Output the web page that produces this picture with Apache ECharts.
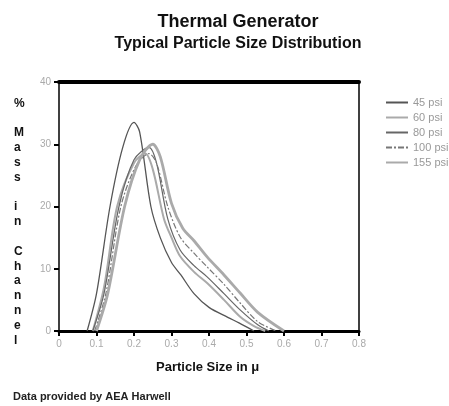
<!DOCTYPE html>
<html>
<head>
    <meta charset="utf-8">
    <title>Thermal Generator</title>
    <script src="https://cdn.jsdelivr.net/npm/echarts@6/dist/echarts.min.js"></script>
    <style>
        html, body { margin: 0; padding: 0; background: #fff; }
        #main { width: 449px; height: 406px; }
    </style>
</head>
<body>
    <div id="main"></div>
    <script type="text/javascript">
        // data: [particle size (micron), % mass in channel]
        var seriesNames = ['45 psi', '60 psi', '80 psi', '100 psi', '155 psi'];
        var xTicks = ['0', '0.1', '0.2', '0.3', '0.4', '0.5', '0.6', '0.7', '0.8'];
        var yTicks = ['0', '10', '20', '30', '40'];

        var psi45 = [[0.075,0],[0.1,6],[0.136,20],[0.17,29.5],[0.2,33.5],[0.215,32],[0.245,20],[0.27,15],[0.3,11],[0.325,9],[0.36,6],[0.4,3.8],[0.45,2.2],[0.48,1.3],[0.52,0]];
        var psi60 = [[0.09,0],[0.12,7],[0.155,20],[0.2,27],[0.23,28.5],[0.25,26],[0.28,18],[0.3,15],[0.323,12],[0.36,9.5],[0.395,7.7],[0.44,5],[0.483,2.3],[0.52,0.8],[0.55,0]];
        var psi80 = [[0.09,0],[0.12,6],[0.16,20],[0.2,27.5],[0.24,29.5],[0.26,27],[0.29,18],[0.323,13],[0.36,10.5],[0.395,8.7],[0.44,6],[0.483,3.4],[0.53,1],[0.56,0]];
        var psi100 = [[0.095,0],[0.125,6],[0.165,20],[0.205,26.5],[0.24,28.5],[0.26,27],[0.29,20],[0.323,15.1],[0.36,12.5],[0.395,10.3],[0.44,7.5],[0.483,4.5],[0.53,1.5],[0.58,0]];
        var psi155 = [[0.1,0],[0.13,6],[0.175,20],[0.215,27.5],[0.25,30],[0.27,28],[0.3,20.5],[0.33,16.5],[0.36,14.5],[0.395,11.9],[0.44,9],[0.483,6.1],[0.53,3],[0.6,0]];

        var narrow = '"Liberation Sans Narrow", "Liberation Sans", sans-serif';

        function mkLine(name, data, color, width, type) {
            return {
                name: name,
                type: 'line',
                data: data,
                smooth: 0.3,
                symbol: 'none',
                lineStyle: { color: color, width: width, type: type || 'solid' },
                itemStyle: { color: color }
            };
        }

        var myChart = echarts.init(document.getElementById('main'));
        myChart.setOption({
            animation: false,
            backgroundColor: '#fff',
            title: {
                text: 'Thermal Generator',
                subtext: 'Typical Particle Size Distribution',
                left: 233,
                textAlign: 'center',
                top: 8,
                itemGap: 5,
                textStyle: { fontFamily: narrow, fontWeight: 'bold', fontSize: 18, color: '#111' },
                subtextStyle: { fontFamily: narrow, fontWeight: 'bold', fontSize: 16, color: '#111' }
            },
            legend: {
                orient: 'vertical',
                left: 380,
                top: 92,
                itemGap: 4,
                itemWidth: 22,
                itemHeight: 10,
                data: seriesNames,
                itemStyle: { opacity: 0, color: 'transparent', borderWidth: 0 },
                textStyle: { fontSize: 11, color: '#999', fontFamily: narrow }
            },
            grid: { left: 59, top: 82, right: 90, bottom: 75 },
            xAxis: [{
                type: 'value',
                min: 0, max: 0.8, interval: 0.1,
                axisLine: { onZero: false, lineStyle: { color: '#000', width: 3 } },
                axisTick: { show: true, length: 5, lineStyle: { color: '#000', width: 2 } },
                axisLabel: { color: '#aaa', fontSize: 10, margin: 8, formatter: function (v, i) { return xTicks[i]; } },
                splitLine: { show: false }
            }, {
                type: 'value',
                position: 'top',
                min: 0, max: 0.8,
                axisLine: { show: true, onZero: false, lineStyle: { color: '#000', width: 4 } },
                axisTick: { show: false },
                axisLabel: { show: false },
                splitLine: { show: false }
            }],
            yAxis: [{
                type: 'value',
                min: 0, max: 40, interval: 10,
                axisLine: { show: true, onZero: false, lineStyle: { color: '#000', width: 1.5 } },
                axisTick: { show: true, length: 5, lineStyle: { color: '#000', width: 2 } },
                axisLabel: { color: '#aaa', fontSize: 10, margin: 8, formatter: function (v, i) { return yTicks[i]; } },
                splitLine: { show: false }
            }, {
                type: 'value',
                position: 'right',
                min: 0, max: 40,
                axisLine: { show: true, onZero: false, lineStyle: { color: '#000', width: 1.5 } },
                axisTick: { show: false },
                axisLabel: { show: false },
                splitLine: { show: false }
            }],
            graphic: [{
                type: 'text',
                left: 14,
                top: 96,
                style: {
                    text: '%\n \nM\na\ns\ns\n \ni\nn\n \nC\nh\na\nn\nn\ne\nl',
                    font: 'bold 12px ' + narrow,
                    lineHeight: 14.8,
                    align: 'center',
                    fill: '#111'
                }
            }, {
                type: 'text',
                left: 156,
                top: 361,
                style: { text: 'Particle Size in \u03bc', font: 'bold 13px ' + narrow, fill: '#111' }
            }, {
                type: 'text',
                left: 13,
                top: 391,
                style: { text: 'Data provided by AEA Harwell', font: 'bold 11px ' + narrow, fill: '#222' }
            }],
            series: [
                mkLine(seriesNames[0], psi45, '#555', 1.3),
                mkLine(seriesNames[1], psi60, '#aaa', 2),
                mkLine(seriesNames[2], psi80, '#666', 1.2),
                mkLine(seriesNames[3], psi100, '#777', 1.2, [6, 2, 2, 2]),
                mkLine(seriesNames[4], psi155, '#aaa', 2.8)
            ]
        });
    </script>
</body>
</html>
